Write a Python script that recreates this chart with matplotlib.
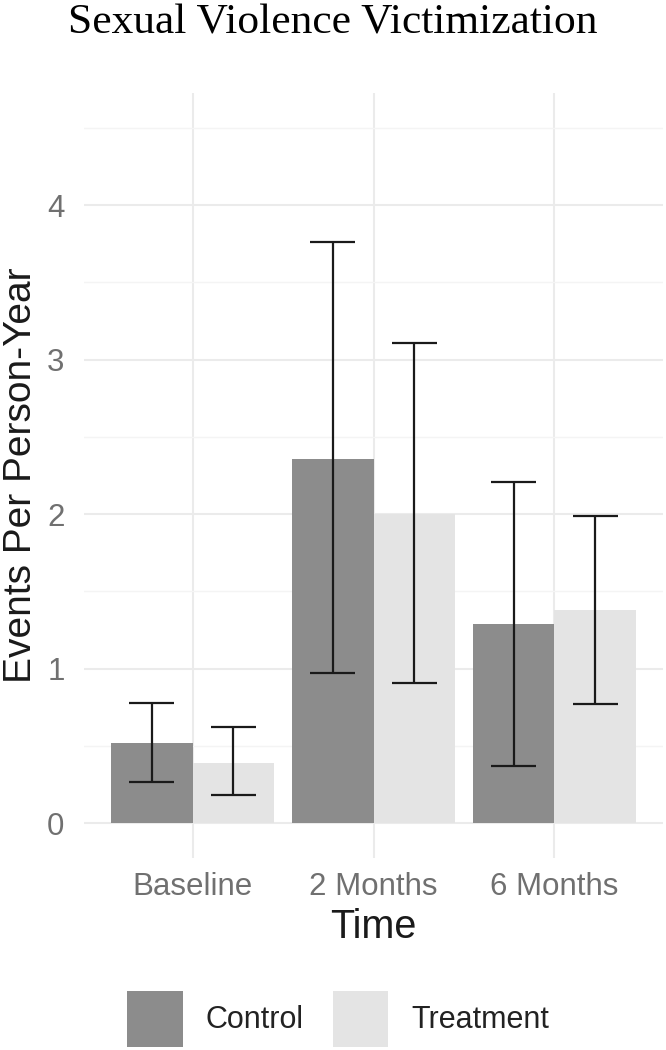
import numpy as np
import matplotlib
matplotlib.use("Agg")
import matplotlib.pyplot as plt
from matplotlib.patches import Patch

plt.rcParams['font.family'] = ['Liberation Sans', 'DejaVu Sans']

times = ['Baseline', '2 Months', '6 Months']
groups = ['Control', 'Treatment']
control_rate = [0.52, 2.36, 1.29]
control_lo = [0.27, 0.97, 0.37]
control_hi = [0.78, 3.76, 2.21]
treat_rate = [0.39, 2.00, 1.38]
treat_lo = [0.18, 0.91, 0.77]
treat_hi = [0.62, 3.11, 1.99]

colors = ['#8c8c8c', '#e4e4e4']
tick_col = '#707070'

fig = plt.figure(figsize=(6.66, 10.5), dpi=100)
ax = fig.add_axes([84 / 666, 192 / 1050, 579 / 666, 765 / 1050])

x = np.arange(1, len(times) + 1)
w = 0.45
cap = 0.125
series = [(control_rate, control_lo, control_hi), (treat_rate, treat_lo, treat_hi)]
for k, (rate, lo, hi) in enumerate(series):
    xs = x + (k - 0.5) * w
    ax.bar(xs, rate, width=w, color=colors[k], zorder=2, linewidth=0)
    ax.vlines(xs, lo, hi, color='#1a1a1a', lw=1.6, zorder=3)
    ax.hlines(lo, xs - cap, xs + cap, color='#1a1a1a', lw=1.6, zorder=3)
    ax.hlines(hi, xs - cap, xs + cap, color='#1a1a1a', lw=1.6, zorder=3)

ax.set_xlim(0.4, 3.6)
ax.set_ylim(-0.225, 4.725)
ax.set_xticks(x)
ax.set_xticklabels(times)
ax.set_yticks([0, 1, 2, 3, 4])
ax.set_yticks(np.arange(0.5, 4.6, 1.0), minor=True)

ax.grid(which='major', color='#ebebeb', lw=1.5, zorder=0)
ax.grid(which='minor', axis='y', color='#f4f4f4', lw=1.0, zorder=0)
ax.set_axisbelow(True)
for s in ax.spines.values():
    s.set_visible(False)

ax.tick_params(axis='both', which='both', length=0, labelsize=22.5, labelcolor=tick_col)
ax.tick_params(axis='x', pad=10)
ax.tick_params(axis='y', pad=14)

ax.set_ylabel('Events Per Person-Year', fontsize=28, color='#1a1a1a')
ax.yaxis.set_label_coords(-0.0777, 0.5)
ax.set_xlabel('Time', fontsize=28.5, color='#1a1a1a')
ax.xaxis.set_label_coords(0.5, -0.066)

fig.text(0.5, 1 - 33 / 1050, 'Sexual Violence Victimization', ha='center', va='baseline',
         fontsize=31.3, family=['Liberation Serif', 'DejaVu Serif'], color='black')

handles = [Patch(facecolor=colors[i], edgecolor='none', label=groups[i]) for i in range(2)]
fig.legend(handles=handles, loc='center', ncol=2, frameon=False,
           bbox_to_anchor=(338 / 666, 1 - 1019 / 1050), fontsize=22,
           handlelength=1.83, handleheight=2.44, handletextpad=0.75,
           columnspacing=0.95, labelcolor='#222222', borderpad=0)

fig.savefig('out.png', dpi=100)
